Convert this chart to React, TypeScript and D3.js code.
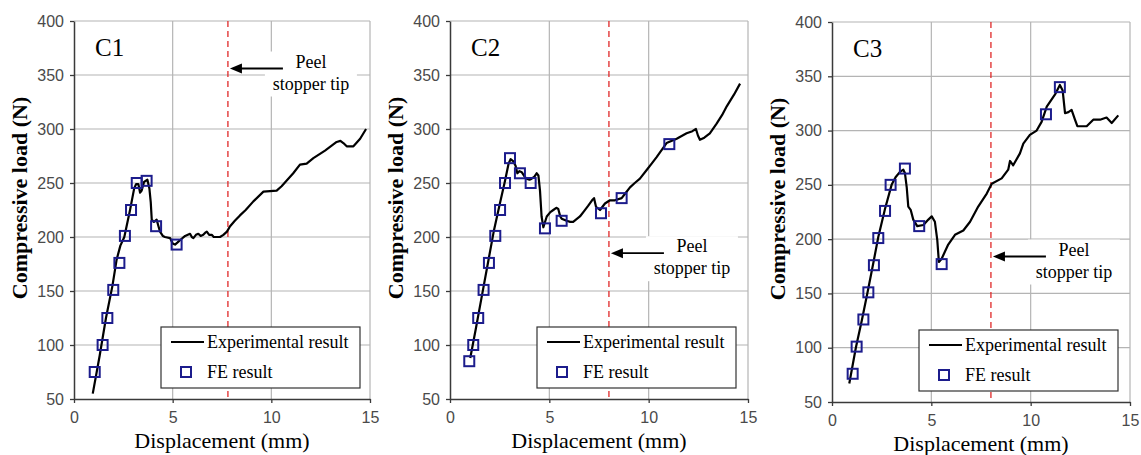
import React, { useEffect, useRef } from 'react';
import * as d3 from 'd3';

// axis ticks shared by the three panels
const xTicks = [0, 5, 10, 15];
const yTicks = [50, 100, 150, 200, 250, 300, 350, 400];
const panelLabels = ['C1', 'C2', 'C3'];
// displacement of the peel stopper tip and load level of the arrow
const peelStopperAt = [7.8, 8.0, 8.0];
const arrowLoad = [356, 185, 184];

// C1 : [displacement (mm), load (N)]
const c1Experimental: [number, number][] = [
  [0.95, 55], [1.3, 90], [1.62, 125], [1.95, 155], [2.16, 179], [2.35, 192], [2.55, 200],
  [2.84, 225], [3.05, 245], [3.15, 249], [3.26, 249], [3.35, 241], [3.43, 243], [3.55, 251],
  [3.72, 253], [3.82, 245], [3.89, 232], [3.94, 216], [4.05, 214], [4.19, 216], [4.28, 210],
  [4.36, 205], [4.5, 201], [4.61, 200], [4.87, 199], [5.0, 194], [5.12, 193], [5.25, 195],
  [5.37, 197], [5.63, 201], [5.88, 203], [5.97, 200], [6.05, 199], [6.18, 202], [6.3, 203],
  [6.42, 201], [6.55, 202], [6.65, 204], [6.73, 205], [6.85, 202], [6.98, 202], [7.08, 200],
  [7.4, 200], [7.57, 202], [7.75, 205], [7.91, 210], [8.15, 215], [8.41, 220], [8.7, 225],
  [9.09, 233], [9.6, 242], [10.27, 243], [10.52, 247], [11.11, 259], [11.45, 267], [11.79, 268],
  [12.13, 273], [12.72, 280], [13.31, 288], [13.5, 289], [13.65, 287], [13.82, 284], [14.16, 284],
  [14.5, 291], [14.8, 300],
];
const c1FE: [number, number][] = [
  [1.05, 75], [1.45, 100], [1.69, 125], [1.99, 151], [2.3, 176], [2.58, 201], [2.89, 225],
  [3.18, 250], [3.68, 252], [4.16, 210], [5.2, 193],
];

// C2
const c2Experimental: [number, number][] = [
  [1.02, 88], [1.3, 115], [1.6, 145], [1.9, 175], [2.2, 205], [2.5, 230], [2.77, 252],
  [2.95, 268], [3.05, 272], [3.19, 270], [3.3, 266], [3.39, 259], [3.5, 261], [3.61, 260],
  [3.75, 256], [3.86, 254], [4.0, 253], [4.11, 254], [4.25, 256], [4.36, 259], [4.45, 257],
  [4.53, 243], [4.61, 219], [4.7, 209], [4.87, 219], [5.05, 223], [5.2, 225], [5.35, 227],
  [5.45, 226], [5.55, 219], [5.62, 217], [5.87, 215], [6.05, 214], [6.2, 214], [6.54, 219],
  [6.75, 224], [6.96, 229], [7.15, 234], [7.25, 236], [7.3, 232], [7.35, 228], [7.55, 225],
  [7.8, 231], [8.05, 234], [8.3, 234], [8.64, 236], [8.85, 241], [9.06, 246], [9.3, 250],
  [9.56, 254], [9.9, 262], [10.15, 268], [10.4, 274], [10.9, 287], [11.41, 291], [11.91, 296],
  [12.2, 298], [12.38, 300], [12.48, 294], [12.58, 290], [12.8, 292], [13.08, 296], [13.42, 305],
  [13.7, 313], [13.93, 321], [14.3, 332], [14.6, 342],
];
const c2FE: [number, number][] = [
  [0.97, 85], [1.17, 100], [1.42, 125], [1.69, 151], [1.96, 176], [2.28, 201], [2.52, 225],
  [2.77, 250], [3.02, 273], [3.52, 259], [4.06, 250], [4.78, 208], [5.62, 215], [7.6, 222],
  [8.64, 236], [11.04, 286],
];

// C3
const c3Experimental: [number, number][] = [
  [0.87, 67], [1.2, 100], [1.5, 125], [1.8, 152], [2.08, 178], [2.33, 202], [2.67, 228],
  [3.0, 250], [3.2, 257], [3.42, 262], [3.59, 264], [3.67, 261], [3.76, 248], [3.84, 230],
  [3.96, 227], [4.09, 218], [4.29, 212], [4.6, 213], [4.85, 218], [5.02, 221], [5.18, 216],
  [5.3, 199], [5.38, 179], [5.52, 182], [5.85, 195], [6.19, 204], [6.61, 208], [6.95, 216],
  [7.36, 230], [7.79, 242], [8.04, 251], [8.54, 256], [8.87, 264], [8.96, 272], [9.12, 268],
  [9.46, 279], [9.63, 288], [9.96, 296], [10.3, 300], [10.55, 308], [10.81, 322], [11.22, 333],
  [11.47, 342], [11.61, 337], [11.73, 316], [11.9, 317], [12.06, 319], [12.23, 310], [12.35, 304],
  [12.82, 304], [13.15, 310], [13.49, 310], [13.82, 312], [14.08, 307], [14.41, 314],
];
const c3FE: [number, number][] = [
  [1.04, 76], [1.24, 101], [1.58, 126], [1.83, 151], [2.11, 176], [2.33, 201], [2.67, 226],
  [2.95, 250], [3.67, 265], [4.39, 212], [5.52, 177], [10.77, 315], [11.47, 340],
];

const experimental = [c1Experimental, c2Experimental, c3Experimental];
const feResults = [c1FE, c2FE, c3FE];

const frames = [
  { left: 74, right: 370, top: 21, bottom: 399 },
  { left: 450, right: 748, top: 21, bottom: 399 },
  { left: 832, right: 1130, top: 22, bottom: 402 },
];

const serif = "'Liberation Serif', 'Times New Roman', serif";
const sans = "'Liberation Sans', Arial, sans-serif";
const navy = '#1c1c8c';

export default function App() {
  const ref = useRef<SVGSVGElement>(null);

  useEffect(() => {
    const svg = d3.select(ref.current);
    svg.selectAll('*').remove();

    frames.forEach((f, i) => {
      const x = d3.scaleLinear().domain([0, 15]).range([f.left, f.right]);
      const y = d3.scaleLinear().domain([50, 400]).range([f.bottom, f.top]);
      const g = svg.append('g');

      // grid
      g.selectAll('.hg').data(yTicks.slice(1)).enter().append('line')
        .attr('x1', f.left).attr('x2', f.right)
        .attr('y1', d => y(d)).attr('y2', d => y(d))
        .attr('stroke', '#b4b4b4').attr('stroke-width', 1.2);
      g.selectAll('.vg').data(xTicks.slice(1)).enter().append('line')
        .attr('y1', f.top).attr('y2', f.bottom)
        .attr('x1', d => x(d)).attr('x2', d => x(d))
        .attr('stroke', '#b4b4b4').attr('stroke-width', 1.2);

      // peel stopper line
      const px = x(peelStopperAt[i]);
      g.append('line')
        .attr('x1', px).attr('x2', px).attr('y1', f.top).attr('y2', f.bottom)
        .attr('stroke', '#e02828').attr('stroke-width', 1.3).attr('stroke-dasharray', '6,4');

      // annotation
      const ay = y(arrowLoad[i]);
      const tx = px + 83;
      g.append('rect')
        .attr('x', tx - 46).attr('y', ay - 17).attr('width', 92).attr('height', 45)
        .attr('fill', '#fff');
      g.append('line')
        .attr('x1', px + 12).attr('x2', px + 55).attr('y1', ay).attr('y2', ay)
        .attr('stroke', '#000').attr('stroke-width', 1.8);
      g.append('path')
        .attr('d', `M${px + 2},${ay} L${px + 14},${ay - 5} L${px + 14},${ay + 5} Z`)
        .attr('fill', '#000');
      g.append('text').text('Peel')
        .attr('x', tx).attr('y', ay - 1).attr('text-anchor', 'middle')
        .attr('font-family', serif).attr('font-size', 18);
      g.append('text').text('stopper tip')
        .attr('x', tx).attr('y', ay + 21).attr('text-anchor', 'middle')
        .attr('font-family', serif).attr('font-size', 18);

      // experimental curve
      const line = d3.line<[number, number]>().x(d => x(d[0])).y(d => y(d[1]));
      g.append('path').datum(experimental[i])
        .attr('d', line)
        .attr('fill', 'none').attr('stroke', '#000').attr('stroke-width', 2.2)
        .attr('stroke-linejoin', 'round');

      // FE markers
      g.selectAll('.fe').data(feResults[i]).enter().append('rect')
        .attr('x', d => x(d[0]) - 5).attr('y', d => y(d[1]) - 5)
        .attr('width', 10).attr('height', 10)
        .attr('fill', 'none').attr('stroke', navy).attr('stroke-width', 2);

      // axes
      const yAxis = d3.axisLeft(y).tickValues(yTicks).tickSize(4).tickSizeOuter(0).tickPadding(6);
      const xAxis = d3.axisBottom(x).tickValues(xTicks).tickSize(4).tickSizeOuter(0).tickPadding(9);
      const ya = g.append('g').attr('transform', `translate(${f.left},0)`).call(yAxis);
      const xa = g.append('g').attr('transform', `translate(0,${f.bottom})`).call(xAxis);
      [ya, xa].forEach(a => {
        a.select('.domain').attr('stroke', '#3a3a3a').attr('stroke-width', 1.5);
        a.selectAll('.tick line').attr('stroke', '#3a3a3a').attr('stroke-width', 1.3);
        a.selectAll('.tick text')
          .attr('font-family', sans).attr('font-size', 16).attr('fill', '#4a4a4a');
      });

      // axis titles
      g.append('text').text('Compressive load (N)')
        .attr('transform', `translate(${f.left - 47},${f.top + 177}) rotate(-90)`)
        .attr('text-anchor', 'middle').attr('font-family', serif)
        .attr('font-weight', 'bold').attr('font-size', 22);
      g.append('text').text('Displacement (mm)')
        .attr('x', (f.left + f.right) / 2).attr('y', f.bottom + 49)
        .attr('text-anchor', 'middle').attr('font-family', serif).attr('font-size', 22);

      // panel label
      g.append('text').text(panelLabels[i])
        .attr('x', f.left + 21).attr('y', f.top + 35)
        .attr('font-family', serif).attr('font-size', 25);

      // legend
      const lx = f.left + 87;
      const ly = f.bottom - 72;
      const lg = g.append('g').attr('transform', `translate(${lx},${ly})`);
      lg.append('rect').attr('width', 199).attr('height', 61)
        .attr('fill', '#fff').attr('stroke', '#333').attr('stroke-width', 1.2);
      lg.append('line').attr('x1', 10).attr('x2', 43).attr('y1', 15).attr('y2', 15)
        .attr('stroke', '#000').attr('stroke-width', 2.2);
      lg.append('text').text('Experimental result').attr('x', 46).attr('y', 21)
        .attr('font-family', serif).attr('font-size', 18);
      lg.append('rect').attr('x', 20).attr('y', 40).attr('width', 10).attr('height', 10)
        .attr('fill', 'none').attr('stroke', navy).attr('stroke-width', 2);
      lg.append('text').text('FE result').attr('x', 46).attr('y', 51)
        .attr('font-family', serif).attr('font-size', 18);
    });
  }, []);

  return (
    <svg
      ref={ref}
      width={1141}
      height={455}
      style={{ position: 'absolute', left: 0, top: 0, background: '#fff' }}
    />
  );
}
